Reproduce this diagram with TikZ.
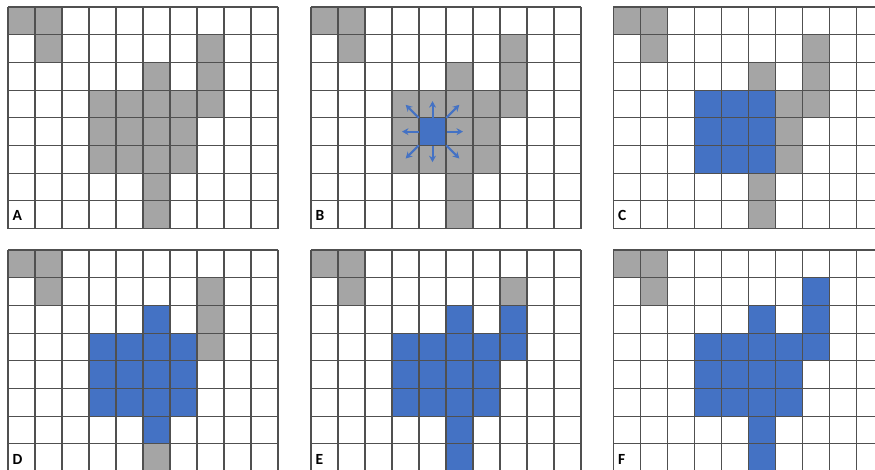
\documentclass[tikz,border=0pt]{standalone}
\usepackage{fontspec}
\setmainfont{Carlito}
\usetikzlibrary{arrows.meta}
\definecolor{cellgray}{HTML}{A5A5A5}
\definecolor{cellblue}{HTML}{4472C4}
\definecolor{gridline}{HTML}{505050}
\tikzset{
  graycell/.style={fill=cellgray},
  bluecell/.style={fill=cellblue},
  gridstroke/.style={draw=gridline, line width=1.1pt},
  panellabel/.style={font=\bfseries\fontsize{15.5}{15.5}\selectfont, anchor=base west, inner sep=0pt},
  spread/.style={draw=cellblue, line width=2pt, -{Stealth[length=6.5pt,width=7pt]}}
}
% grid of 10 x 8 cells and its label, origin at #1,#2
\newcommand{\gridpanel}[3]{%
  \begin{scope}[shift={(#1,#2)}]
    \foreach \i in {0,...,10} \draw[gridstroke] (\i*27,0) -- (\i*27,221.6);
    \foreach \j in {0,...,8} \draw[gridstroke] (0,\j*27.7) -- (270,\j*27.7);
    \node[panellabel] (lab#3) at (4.5,214) {#3};
  \end{scope}}
\newcommand{\cells}[4]{% origin x, origin y, style, list
  \begin{scope}[shift={(#1,#2)}]
    \foreach \c/\r in {#4} \path[#3] (\c*27,\r*27.7) rectangle ++(27,27.7);
  \end{scope}}
\begin{document}
\begin{tikzpicture}[x=1pt,y=-1pt]
\useasboundingbox (0,0) rectangle (875,470);
\clip (0,0) rectangle (875,470);
\fill[white] (0,0) rectangle (875,470);

% A
\cells{8}{7}{graycell}{0/0,1/0,1/1,7/1,7/2,5/2,3/3,4/3,5/3,6/3,7/3,3/4,4/4,5/4,6/4,3/5,4/5,5/5,6/5,5/6,5/7}
\gridpanel{8}{7}{A}

% B
\cells{311}{7}{graycell}{0/0,1/0,1/1,7/1,7/2,5/2,3/3,4/3,5/3,6/3,7/3,3/4,5/4,6/4,3/5,4/5,5/5,6/5,5/6,5/7}
\cells{311}{7}{bluecell}{4/4}
\gridpanel{311}{7}{B}
\coordinate (seed) at (432.5,131.65);
\foreach \a in {0,90,180,270}
  \draw[spread] ([shift={(\a:14)}]seed) -- ([shift={(\a:30.5)}]seed);
\foreach \a in {45,135,225,315}
  \draw[spread] ([shift={(\a:19.5)}]seed) -- ([shift={(\a:38)}]seed);

% C
\cells{613.3}{7}{graycell}{0/0,1/0,1/1,7/1,7/2,5/2,6/3,7/3,6/4,6/5,5/6,5/7}
\cells{613.3}{7}{bluecell}{3/3,4/3,5/3,3/4,4/4,5/4,3/5,4/5,5/5}
\gridpanel{613.3}{7}{C}

% D
\cells{8}{250}{graycell}{0/0,1/0,1/1,7/1,7/2,7/3,5/7}
\cells{8}{250}{bluecell}{5/2,3/3,4/3,5/3,6/3,3/4,4/4,5/4,6/4,3/5,4/5,5/5,6/5,5/6}
\gridpanel{8}{250}{D}

% E
\cells{311}{250}{graycell}{0/0,1/0,1/1,7/1}
\cells{311}{250}{bluecell}{5/2,7/2,3/3,4/3,5/3,6/3,7/3,3/4,4/4,5/4,6/4,3/5,4/5,5/5,6/5,5/6,5/7}
\gridpanel{311}{250}{E}

% F
\cells{613.3}{250}{graycell}{0/0,1/0,1/1}
\cells{613.3}{250}{bluecell}{7/1,5/2,7/2,3/3,4/3,5/3,6/3,7/3,3/4,4/4,5/4,6/4,3/5,4/5,5/5,6/5,5/6,5/7}
\gridpanel{613.3}{250}{F}
\end{tikzpicture}
\end{document}
